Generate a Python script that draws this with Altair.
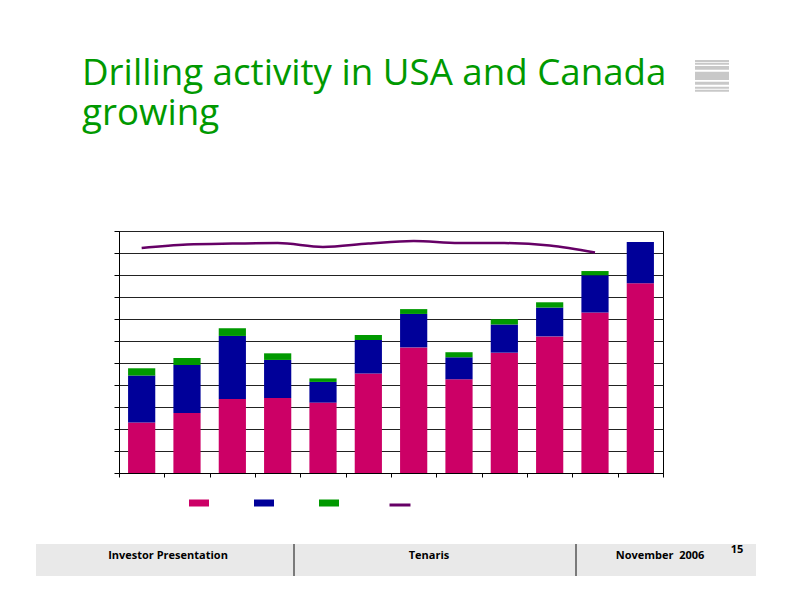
import altair as alt
import pandas as pd

# ---- data (units = gridline steps) ----
periods = list(range(12))
series_names = ["Series 1", "Series 2", "Series 3"]
series_colors = ["#CC0066", "#000099", "#009900"]
s1 = [2.29, 2.73, 3.36, 3.41, 3.20, 4.52, 5.71, 4.26, 5.47, 6.21, 7.29, 8.62]
s2 = [2.14, 2.18, 2.87, 1.73, 0.94, 1.53, 1.52, 1.00, 1.28, 1.31, 1.70, 1.88]
s3 = [0.33, 0.32, 0.35, 0.30, 0.16, 0.22, 0.22, 0.23, 0.24, 0.24, 0.19, 0.00]
line_name = "Series 4"
line_color = "#660066"
line_vals = [10.23, 10.39, 10.43, 10.45, 10.27, 10.43, 10.55, 10.45, 10.45, 10.34, 10.02]

title_lines = ["Drilling activity in USA and Canada", "growing"]
footer_texts = ["Investor Presentation", "Tenaris", "November\u00a0 2006"]
page_number = "15"

rows = []
for order, (name, vals) in enumerate(zip(series_names, [s1, s2, s3])):
    for i, v in zip(periods, vals):
        rows.append({"idx": i, "series": name, "order": order, "value": v})
bar_df = pd.DataFrame(rows)
line_df = pd.DataFrame({"idx": periods[:len(line_vals)], "v": line_vals, "name": line_name})

xscale = alt.Scale(domain=[0, 12], nice=False, zero=False)
yscale = alt.Scale(domain=[0, 11], nice=False)

x_axis = alt.Axis(values=list(range(13)), labels=False, ticks=True, tickSize=4,
                  grid=False, title=None, domainColor="#000", tickColor="#000")
y_axis = alt.Axis(values=list(range(12)), labels=False, ticks=True, tickSize=5,
                  grid=True, gridColor="#222", gridWidth=1, title=None,
                  domainColor="#000", tickColor="#000", tickCount=12)

bars = alt.Chart(bar_df).transform_stack(
    stack="value", groupby=["idx"], as_=["y0", "y1"], sort=[alt.SortField("order")]
).transform_calculate(
    xa="datum.idx + 0.2", xb="datum.idx + 0.8"
).mark_bar().encode(
    x=alt.X("xa:Q", scale=xscale, axis=x_axis),
    x2="xb:Q",
    y=alt.Y("y0:Q", scale=yscale, axis=y_axis),
    y2="y1:Q",
    color=alt.Color("series:N", scale=alt.Scale(domain=series_names, range=series_colors),
                    legend=alt.Legend(orient="none", legendX=70, legendY=262, direction="horizontal",
                                      columns=3, title=None, labelExpr="''", labelOffset=0,
                                      columnPadding=45, padding=0,
                                      symbolType="M-1,-0.35H1V0.35H-1Z", symbolSize=400,
                                      symbolStrokeWidth=0)),
)

line = alt.Chart(line_df).transform_calculate(xc="datum.idx + 0.5").mark_line(
    strokeWidth=2.5, interpolate="monotone"
).encode(
    x=alt.X("xc:Q", scale=xscale, axis=x_axis),
    y=alt.Y("v:Q", scale=yscale, axis=y_axis),
    stroke=alt.Stroke("name:N", scale=alt.Scale(domain=[line_name], range=[line_color]),
                      legend=alt.Legend(orient="none", legendX=269, legendY=262, title=None,
                                        labelExpr="''", labelOffset=0, padding=0,
                                        symbolType="stroke", symbolSize=440, symbolStrokeWidth=3)),
)

one = pd.DataFrame({"a": [0]})

# ---- slide decorations (pixel positions relative to the plot origin) ----
footer_band = alt.Chart(one).mark_rect(color="#E9E9E9").encode(
    x=alt.value(-83), x2=alt.value(637), y=alt.value(313), y2=alt.value(345))
dividers = [alt.Chart(one).mark_rule(color="#7A7A7A", strokeWidth=2).encode(
    x=alt.value(xv), y=alt.value(313), y2=alt.value(345)) for xv in [175, 457]]
footer_x = [49, 310, 541]
footer = [alt.Chart(one).mark_text(text=t, font="Open Sans", fontWeight="bold", fontSize=11,
                                   color="#000", baseline="middle", align="center").encode(
    x=alt.value(xv), y=alt.value(325)) for t, xv in zip(footer_texts, footer_x)]
pnum = alt.Chart(one).mark_text(text=page_number, font="Open Sans", fontWeight="bold", fontSize=11,
                                color="#000", baseline="middle", align="center").encode(
    x=alt.value(618), y=alt.value(319))
stripes_y = [(60, 62.3), (63, 64.7), (66, 69.7), (71.7, 80), (81.7, 84.7), (86.7, 88.7), (89.7, 91.7)]
stripes = [alt.Chart(one).mark_rect(color="#C8C8C8").encode(
    x=alt.value(576), x2=alt.value(610), y=alt.value(a - 231), y2=alt.value(b - 231))
    for a, b in stripes_y]

chart = alt.layer(bars, line, footer_band, *dividers, *footer, pnum, *stripes).properties(
    width=544, height=242,
    autosize=alt.AutoSizeParams(type="none"),
    padding={"left": 111, "top": 223, "right": 121, "bottom": 131},
    title=alt.TitleParams(text=title_lines, anchor="start", frame="group", dx=-37, offset=-110,
                          fontSize=36.7, font="Open Sans", fontWeight="normal", color="#009900",
                          lineHeight=40, baseline="bottom"),
).resolve_scale(color="independent", stroke="independent").configure_view(stroke="#000", strokeWidth=1)

chart.save("out.html", embed_options={"renderer": "svg", "actions": False})
